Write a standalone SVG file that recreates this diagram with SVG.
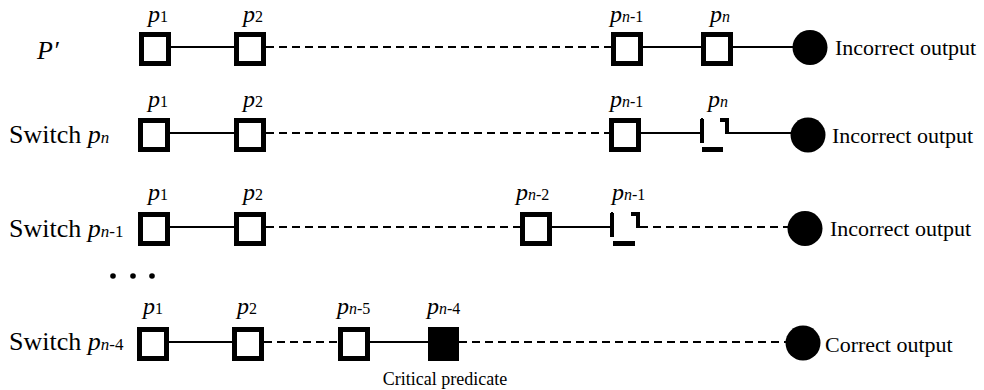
<svg xmlns="http://www.w3.org/2000/svg" width="984" height="390" viewBox="0 0 984 390">
<style>
text{font-family:"Liberation Serif","Times New Roman",serif;fill:#000}
.lab{font-size:24px}
.it{font-style:italic}
.sub{font-size:16px}
.sw .sub{font-size:17px}
.out{font-size:22px}
.sw{font-size:26px}
.box{fill:#fff;stroke:#000;stroke-width:5}
.fbox{fill:#000;stroke:#000;stroke-width:5}
.sol{stroke:#000;stroke-width:2;fill:none}
.dash{stroke:#000;stroke-width:2;fill:none;stroke-dasharray:8 5}
.dot{fill:#000}
</style>
<g id="connectors">
<line class="sol" x1="171" y1="47" x2="234" y2="47"/>
<line class="dash" x1="266" y1="47" x2="611" y2="47"/>
<line class="sol" x1="643" y1="47" x2="701" y2="47"/>
<line class="sol" x1="733" y1="47" x2="793" y2="47"/>
<line class="sol" x1="170" y1="133" x2="234" y2="133"/>
<line class="dash" x1="266" y1="133" x2="609" y2="133"/>
<line class="sol" x1="641" y1="133" x2="700" y2="133"/>
<line class="sol" x1="729" y1="133" x2="791" y2="133"/>
<line class="sol" x1="170" y1="227" x2="234" y2="227"/>
<line class="dash" x1="266" y1="227" x2="520" y2="227"/>
<line class="sol" x1="552" y1="227" x2="610" y2="227"/>
<line class="dash" x1="640" y1="227" x2="788" y2="227"/>
<line class="sol" x1="169" y1="342" x2="232" y2="342"/>
<line class="dash" x1="264" y1="342" x2="338" y2="342"/>
<line class="sol" x1="370" y1="342" x2="428" y2="342"/>
<line class="dash" x1="459" y1="342" x2="786" y2="342"/>
</g>
<g id="row1-label"><text class="sw it" x="37" y="59">P′</text></g>
<g id="row2-label"><text class="sw" x="9" y="143">Switch <tspan class="it">p</tspan><tspan class="sub it">n</tspan></text></g>
<g id="row3-label"><text class="sw" x="9" y="237">Switch <tspan class="it">p</tspan><tspan class="sub"><tspan class="it">n</tspan>-1</tspan></text></g>
<g id="row4-label"><text class="sw" x="9" y="350">Switch <tspan class="it">p</tspan><tspan class="sub"><tspan class="it">n</tspan>-4</tspan></text></g>
<g id="r1-p1"><rect class="box" x="141.5" y="34.5" width="27" height="29"/><text class="lab" x="148" y="22"><tspan class="it">p</tspan><tspan class="sub">1</tspan></text></g>
<g id="r1-p2"><rect class="box" x="236.5" y="34.5" width="27" height="29"/><text class="lab" x="243" y="22"><tspan class="it">p</tspan><tspan class="sub">2</tspan></text></g>
<g id="r1-pn1"><rect class="box" x="613.5" y="34.5" width="27" height="29"/><text class="lab" x="610" y="22"><tspan class="it">p</tspan><tspan class="sub"><tspan class="it">n</tspan>-1</tspan></text></g>
<g id="r1-pn"><rect class="box" x="703.5" y="34.5" width="27" height="29"/><text class="lab" x="710" y="22"><tspan class="it">p</tspan><tspan class="sub it">n</tspan></text></g>
<g id="r1-out"><circle cx="810" cy="47.5" r="17.5"/><text class="out" x="835" y="55">Incorrect output</text></g>
<g id="r2-p1"><rect class="box" x="140.5" y="120.5" width="27" height="29"/><text class="lab" x="148" y="107"><tspan class="it">p</tspan><tspan class="sub">1</tspan></text></g>
<g id="r2-p2"><rect class="box" x="236.5" y="120.5" width="27" height="29"/><text class="lab" x="243" y="107"><tspan class="it">p</tspan><tspan class="sub">2</tspan></text></g>
<g id="r2-pn1"><rect class="box" x="611.5" y="120.5" width="27" height="29"/><text class="lab" x="610" y="107"><tspan class="it">p</tspan><tspan class="sub"><tspan class="it">n</tspan>-1</tspan></text></g>
<g id="r2-pn"><path d="M701 118h2v1h1v24h-4v-24h1z M720 118h9v16h-4v-12h-5z M702 147h21v5h-21z"/><text class="lab" x="708" y="107"><tspan class="it">p</tspan><tspan class="sub it">n</tspan></text></g>
<g id="r2-out"><circle cx="808" cy="135" r="17.5"/><text class="out" x="832" y="143">Incorrect output</text></g>
<g id="r3-p1"><rect class="box" x="140.5" y="214.5" width="27" height="29"/><text class="lab" x="148" y="200"><tspan class="it">p</tspan><tspan class="sub">1</tspan></text></g>
<g id="r3-p2"><rect class="box" x="236.5" y="214.5" width="27" height="29"/><text class="lab" x="243" y="200"><tspan class="it">p</tspan><tspan class="sub">2</tspan></text></g>
<g id="r3-pn2"><rect class="box" x="522.5" y="214.5" width="27" height="29"/><text class="lab" x="516" y="200"><tspan class="it">p</tspan><tspan class="sub"><tspan class="it">n</tspan>-2</tspan></text></g>
<g id="r3-pn1"><path d="M611 212h2v1h1v24h-4v-24h1z M631 212h9v16h-4v-12h-5z M613 241h22v5h-22z"/><text class="lab" x="612" y="200"><tspan class="it">p</tspan><tspan class="sub"><tspan class="it">n</tspan>-1</tspan></text></g>
<g id="r3-out"><circle cx="805" cy="228.5" r="17.5"/><text class="out" x="830" y="236">Incorrect output</text></g>
<g id="dots"><circle class="dot" cx="113" cy="276" r="2.8"/><circle class="dot" cx="133" cy="276" r="2.8"/><circle class="dot" cx="152" cy="276" r="2.8"/></g>
<g id="r4-p1"><rect class="box" x="139.5" y="329.5" width="27" height="29"/><text class="lab" x="143" y="314"><tspan class="it">p</tspan><tspan class="sub">1</tspan></text></g>
<g id="r4-p2"><rect class="box" x="234.5" y="329.5" width="27" height="29"/><text class="lab" x="237" y="314"><tspan class="it">p</tspan><tspan class="sub">2</tspan></text></g>
<g id="r4-pn5"><rect class="box" x="340.5" y="329.5" width="27" height="29"/><text class="lab" x="337" y="314"><tspan class="it">p</tspan><tspan class="sub"><tspan class="it">n</tspan>-5</tspan></text></g>
<g id="r4-pn4"><rect class="fbox" x="430.5" y="329.5" width="26" height="29"/><text class="lab" x="427" y="314"><tspan class="it">p</tspan><tspan class="sub"><tspan class="it">n</tspan>-4</tspan></text><text x="445" y="385" font-size="18" text-anchor="middle">Critical predicate</text></g>
<g id="r4-out"><circle cx="803" cy="343" r="17.5"/><text class="out" x="825" y="352">Correct output</text></g>
</svg>
